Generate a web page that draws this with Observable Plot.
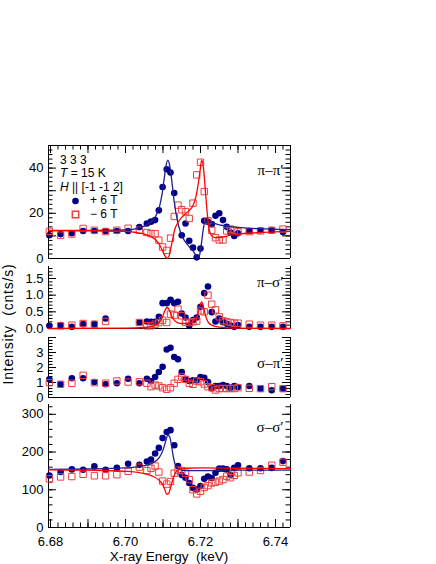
<!DOCTYPE html>
<html><head><meta charset="utf-8">
<script src="https://cdn.jsdelivr.net/npm/d3@7"></script>
<script src="https://cdn.jsdelivr.net/npm/@observablehq/plot@0.6"></script>
<style>
body{margin:0;background:#fff;}
#chart{position:relative;width:436px;height:564px;font-family:"Liberation Sans",Arial,sans-serif;color:#000;}
#chart svg{position:absolute;left:0;top:0;}
.t{position:absolute;font-size:12px;white-space:pre;line-height:13px;}
</style></head><body><div id="chart"></div><script>
// ---- data (energy grid in keV) ----
const energy = [6.6797, 6.6827, 6.6857, 6.6887, 6.6917, 6.6947, 6.6977, 6.7007, 6.7037, 6.7057,
  6.7068, 6.7079, 6.7089, 6.7099, 6.7110, 6.7120, 6.7130, 6.7140, 6.7150, 6.7160,
  6.7170, 6.7180, 6.7190, 6.7200, 6.7210, 6.7220, 6.7230, 6.7240, 6.7250, 6.7260,
  6.7270, 6.7280, 6.7290, 6.7300, 6.7330, 6.7360, 6.7390, 6.7420];
// pi-pi'
const ppPlus = [10.3, 10.8, 11.2, 12.2, 12.2, 12.2, 12.2, 12.2, 13.9, 15.5, 16.3, 17.0, 21.3, 31.6, 39.5, 38.0, 29.0, null, 10.3, 15.5,
  7.8, 4.8, 0.5, 4.4, 16.7, 16.2, 15.2, 18.9, 20.0, 17.0, 14.0, 11.5, 10.0, 11.2, 12.2, 12.5, 12.5, 11.7];
const ppMinus = [12.0, 10.3, 10.8, 13.3, 12.5, 11.9, 12.5, 13.4, 12.5, 11.5, 11.0, 11.0, 8.1, 5.1, 3.6, 9.0, 18.6, 23.6, 21.6, 20.7,
  17.7, 24.5, 37.0, 42.6, 29.6, 16.7, 12.5, 9.2, 8.2, 8.2, 12.2, 13.0, 12.5, 11.8, 11.9, 12.2, 12.5, 13.0];
// pi-sigma'
const psPlus = [0.08, 0.10, 0.05, 0.13, 0.13, 0.30, null, null, 0.18, 0.21, 0.20, 0.20, 0.35, 0.76, 0.76, 0.86, 0.76, 0.80, 0.45, 0.33,
  0.08, 0.25, 0.33, 0.65, 1.06, 1.26, 0.49, 0.21, 0.30, 0.19, 0.14, 0.09, 0.05, 0.10, 0.05, 0.05, 0.05, 0.05];
const psMinus = [null, 0.08, 0.10, 0.15, 0.13, 0.21, null, null, 0.18, 0.08, 0.08, 0.13, 0.18, 0.25, 0.18, 0.43, 0.40, 0.58, 0.38, 0.18,
  0.18, 0.20, 0.22, 0.53, 0.50, 1.00, 0.73, 0.56, 0.35, 0.23, 0.20, 0.18, 0.16, 0.16, 0.13, 0.10, 0.10, 0.08];
// sigma-pi'
const spPlus = [1.21, 0.88, 1.28, 1.28, 1.03, 0.88, 0.95, 1.25, 0.95, 1.25, 1.10, 1.37, 1.70, 2.05, 3.20, 3.32, 2.70, 2.55, 1.70, 1.21,
  1.10, 1.15, 1.15, 1.37, 1.32, 1.03, 0.61, 0.77, 0.77, 0.83, 0.77, 0.65, 0.77, 0.70, 0.77, 0.59, 0.48, 0.59];
const spMinus = [0.99, 0.88, 0.95, 1.48, 0.99, 0.95, 1.10, 1.03, 1.05, 0.95, 0.72, 0.83, 0.77, 0.65, 0.55, 0.65, 0.95, 1.21, 1.37, 1.21,
  0.95, 0.88, 1.10, 1.05, 0.90, 0.72, 0.65, 0.50, 0.60, 0.60, 0.60, 0.60, 0.60, 0.65, 0.61, 0.59, 0.72, 0.59];
// sigma-sigma'
const ssPlus = [138, 147, 154, 153, 162, 153, 158, 169, 166, 175, 180, 196, 211, 237, 253, 258, 218, 163, 139, 132,
  118, 105, 101, 110, 129, 135, 131, 145, 156, 156, 154, 140, 158, 165, 157, 157, 158, 176];
const ssMinus = [129, 134, 135, 141, 137, 137, 140, 149, 160, 151, 157, 163, 147, 123, 115, 122, 144, 152, 151, 144,
  127, 100, 89, 96, 106, 111, 118, 120, 123, 127, 136, 132, 138, 145, 147, 151, 165, 173];

// fitted curves
const fitPPplusE = [6.6795, 6.690, 6.700, 6.703, 6.705, 6.707, 6.708, 6.709, 6.7097, 6.7103, 6.7108, 6.7113, 6.7118, 6.7123, 6.713, 6.714, 6.715, 6.716, 6.717, 6.718, 6.7186, 6.7192, 6.7197, 6.7202, 6.7207, 6.7212, 6.722, 6.724, 6.726, 6.728, 6.730, 6.735, 6.744];
const fitPPplusV = [12.3, 12.4, 12.6, 13.2, 14.3, 16.5, 18.6, 22.5, 28, 35, 41, 43.5, 41, 35, 25, 15.5, 10.2, 7.3, 5.2, 3.4, 1.8, 0.3, 1.2, 6.0, 12.5, 16.3, 16.3, 15.4, 14.6, 14.1, 13.8, 13.2, 12.8];
const fitPPminusE = [6.6795, 6.690, 6.700, 6.703, 6.705, 6.707, 6.708, 6.709, 6.7097, 6.7103, 6.7108, 6.7112, 6.7117, 6.7122, 6.7127, 6.713, 6.714, 6.715, 6.716, 6.717, 6.718, 6.7188, 6.7194, 6.7199, 6.7203, 6.7208, 6.7213, 6.7218, 6.7223, 6.723, 6.724, 6.726, 6.728, 6.730, 6.735, 6.744];
const fitPPminusV = [12.4, 12.3, 12.0, 11.5, 10.8, 9.5, 8.3, 6.3, 4.0, 1.8, 0.5, 0.1, 1.5, 5.5, 9.5, 12, 16, 18.2, 19.8, 21.3, 23.5, 27.5, 33, 39, 43.5, 40, 30, 20, 13, 10, 9.2, 9.5, 10.3, 10.8, 11.4, 12.0];
const fitPSE = [6.6795, 6.700, 6.705, 6.707, 6.708, 6.709, 6.7097, 6.7103, 6.7108, 6.7112, 6.7117, 6.7122, 6.713, 6.714, 6.715, 6.716, 6.717, 6.718, 6.7188, 6.7194, 6.7199, 6.7203, 6.7208, 6.7213, 6.722, 6.723, 6.725, 6.730, 6.744];
const fitPSV = [0.0, 0.01, 0.03, 0.06, 0.1, 0.18, 0.3, 0.48, 0.6, 0.63, 0.55, 0.4, 0.25, 0.17, 0.15, 0.15, 0.17, 0.22, 0.3, 0.48, 0.7, 0.8, 0.65, 0.4, 0.2, 0.1, 0.04, 0.01, 0.0];
const fitSSplusE = [6.6795, 6.690, 6.700, 6.704, 6.707, 6.709, 6.710, 6.7107, 6.7113, 6.7118, 6.7123, 6.7128, 6.7133, 6.714, 6.716, 6.720, 6.730, 6.744];
const fitSSplusV = [154, 155, 158, 162, 170, 185, 205, 228, 245, 240, 215, 185, 165, 155, 151, 151, 152, 152];
const fitSSminusE = [6.6795, 6.690, 6.700, 6.704, 6.707, 6.709, 6.710, 6.7105, 6.711, 6.7115, 6.712, 6.7127, 6.7135, 6.714, 6.716, 6.720, 6.730, 6.744];
const fitSSminusV = [153, 152, 149, 145, 137, 125, 112, 100, 88, 90, 105, 130, 148, 153, 157, 158, 157, 156];

const xTickLabels = [6.68, 6.70, 6.72, 6.74];
const xMajor = [6.68, 6.69, 6.70, 6.71, 6.72, 6.73, 6.74];

// ---- layout ----
const W = 436, H = 564, L = 48, R = 290;
const xDomain = [6.67947, 6.744];
const BLUE = "#000088", RED = "#ff0000", SQ = "#f03c3c", BLUELINE = "#1f1f90";

const rows = (vals) => energy.map((e, i) => ({e, v: vals[i]})).filter(d => d.v != null);
const curve = (E, V) => E.map((e, i) => ({e, v: V[i]}));

function panel(o) {
  const ph = o.bottom - o.top, pw = R - L;
  const marks = [
    Plot.ruleX(xDomain, {x: d => d, stroke: "black", strokeWidth: 1}),
    Plot.ruleY([o.yDomain[0]], {y: d => d, stroke: "black", strokeWidth: 1}),
    Plot.tickY(o.yMinor, {y: d => d, insetRight: pw - 4.5, stroke: "black"}),
    Plot.tickY(o.yMajor, {y: d => d, insetRight: pw - 8, stroke: "black"}),
    Plot.tickY(o.yMinor, {y: d => d, insetLeft: pw - 4.5, stroke: "black"}),
    Plot.tickY(o.yMajor, {y: d => d, insetLeft: pw - 8, stroke: "black"}),
    Plot.axisY(o.yLabels, {anchor: "left", tickSize: 0, tickPadding: 5, label: null, tickFormat: o.yFormat, fontSize: 13}),
  ];
  if (o.topAxis) {
    const xMinor = d3.range(6.68, 6.7441, 0.002);
    marks.push(Plot.ruleY([o.yDomain[1]], {y: d => d, stroke: "black"}));
    marks.push(Plot.tickX(xMinor, {x: d => d, insetBottom: ph - 4.5, stroke: "black"}));
    marks.push(Plot.tickX(xMajor, {x: d => d, insetBottom: ph - 8, stroke: "black"}));
  }
  if (o.bottomAxis) {
    const xMinor = d3.range(6.68, 6.7441, 0.002);
    marks.push(Plot.tickX(xMinor, {x: d => d, insetTop: ph - 4.5, stroke: "black"}));
    marks.push(Plot.tickX(xMajor, {x: d => d, insetTop: ph - 8, stroke: "black"}));
    marks.push(Plot.axisX(xTickLabels, {anchor: "bottom", tickSize: 0, tickPadding: 9, label: null, tickFormat: d3.format(".2f"), fontSize: 13}));
  }
  marks.push(Plot.dot(rows(o.plus), {x: "e", y: "v", r: 3.3, fill: BLUE, stroke: "none"}));
  marks.push(Plot.dot(rows(o.minus), {x: "e", y: "v", r: 3.6, symbol: "square", fill: "none", stroke: SQ, strokeWidth: 1}));
  for (const f of o.fits) {
    marks.push(Plot.line(curve(f.E, f.V), {x: "e", y: "v", stroke: f.color, strokeWidth: 1.3, curve: "monotone-x"}));
  }
  marks.push(Plot.text([o.label], {frameAnchor: "top-right", dx: -7, dy: o.labelDy, text: d => d, textAnchor: "end", lineAnchor: "middle",
    fontFamily: "Liberation Serif, Times New Roman, serif", fontSize: 15}));
  if (o.legend) {
    marks.push(Plot.dot([0], {frameAnchor: "top-left", dx: 27, dy: 55.5, r: 3.3, fill: BLUE, stroke: "none"}));
    marks.push(Plot.dot([0], {frameAnchor: "top-left", dx: 27, dy: 69, r: 3.6, symbol: "square", fill: "none", stroke: SQ}));
  }
  return Plot.plot({
    width: W, height: H,
    marginLeft: L, marginRight: W - R, marginTop: o.top, marginBottom: H - o.bottom,
    x: {domain: xDomain, axis: o.bottomAxis ? undefined : null},
    y: {domain: o.yDomain},
    style: {fontFamily: "Liberation Sans, Arial, sans-serif", fontSize: "13px", background: "transparent", overflow: "visible", color: "black"},
    marks
  });
}

const chart = document.getElementById("chart");
const panels = [
  {top: 145, bottom: 258, yDomain: [0, 50], yLabels: [0, 20, 40], yMajor: d3.range(0, 50.1, 10), yMinor: d3.range(0, 50.1, 2),
   yFormat: d3.format("d"), plus: ppPlus, minus: ppMinus, label: "π–π′", labelDy: 25, topAxis: true, legend: true,
   fits: [{E: fitPPplusE, V: fitPPplusV, color: BLUELINE}, {E: fitPPminusE, V: fitPPminusV, color: RED}]},
  {top: 266, bottom: 328, yDomain: [0, 1.86], yLabels: [0, 0.5, 1.0, 1.5], yMajor: [0, 0.5, 1.0, 1.5], yMinor: d3.range(0, 1.86, 0.1),
   yFormat: d3.format(".1f"), plus: psPlus, minus: psMinus, label: "π–σ′", labelDy: 16,
   fits: [{E: fitPSE, V: fitPSV, color: RED}]},
  {top: 337, bottom: 397, yDomain: [0, 4], yLabels: [0, 1, 2, 3], yMajor: [0, 1, 2, 3, 4], yMinor: d3.range(0, 4.01, 0.2),
   yFormat: d3.format("d"), plus: spPlus, minus: spMinus, label: "σ–π′", labelDy: 26, fits: []},
  {top: 404, bottom: 527, yDomain: [0, 326], yLabels: [0, 100, 200, 300], yMajor: [0, 100, 200, 300], yMinor: d3.range(0, 326, 20),
   yFormat: d3.format("d"), plus: ssPlus, minus: ssMinus, label: "σ–σ′", labelDy: 23, bottomAxis: true,
   fits: [{E: fitSSplusE, V: fitSSplusV, color: BLUELINE}, {E: fitSSminusE, V: fitSSminusV, color: RED}]}
];
for (const p of panels) chart.appendChild(panel(p));

function addText(html, left, cy, size) {
  const d = document.createElement("div");
  d.className = "t";
  d.innerHTML = html;
  d.style.left = left + "px";
  d.style.top = (cy - 6.5) + "px";
  if (size) { d.style.fontSize = size + "px"; d.style.lineHeight = Math.round(size * 1.1) + "px"; d.style.top = (cy - size * 0.55) + "px"; }
  chart.appendChild(d);
  return d;
}
addText("3 3 3", 60, 160);
addText("<i>T</i> = 15 K", 60, 173.5);
addText("<i>H</i> || [-1 -1 2]", 60, 187);
addText("+ 6 T", 90, 200.5);
addText("− 6 T", 90, 214);
const xt = addText("X-ray Energy  (keV)", 169, 556.3, 13.5);
xt.style.transform = "translateX(-50%)";
const yt = document.createElement("div");
yt.className = "t";
yt.textContent = "Intensity  (cnts/s)";
Object.assign(yt.style, {left: "8px", top: "324px", fontSize: "14px", lineHeight: "15px", letterSpacing: "0.8px", transform: "translate(-50%,-50%) rotate(-90deg)"});
chart.appendChild(yt);
</script></body></html>
